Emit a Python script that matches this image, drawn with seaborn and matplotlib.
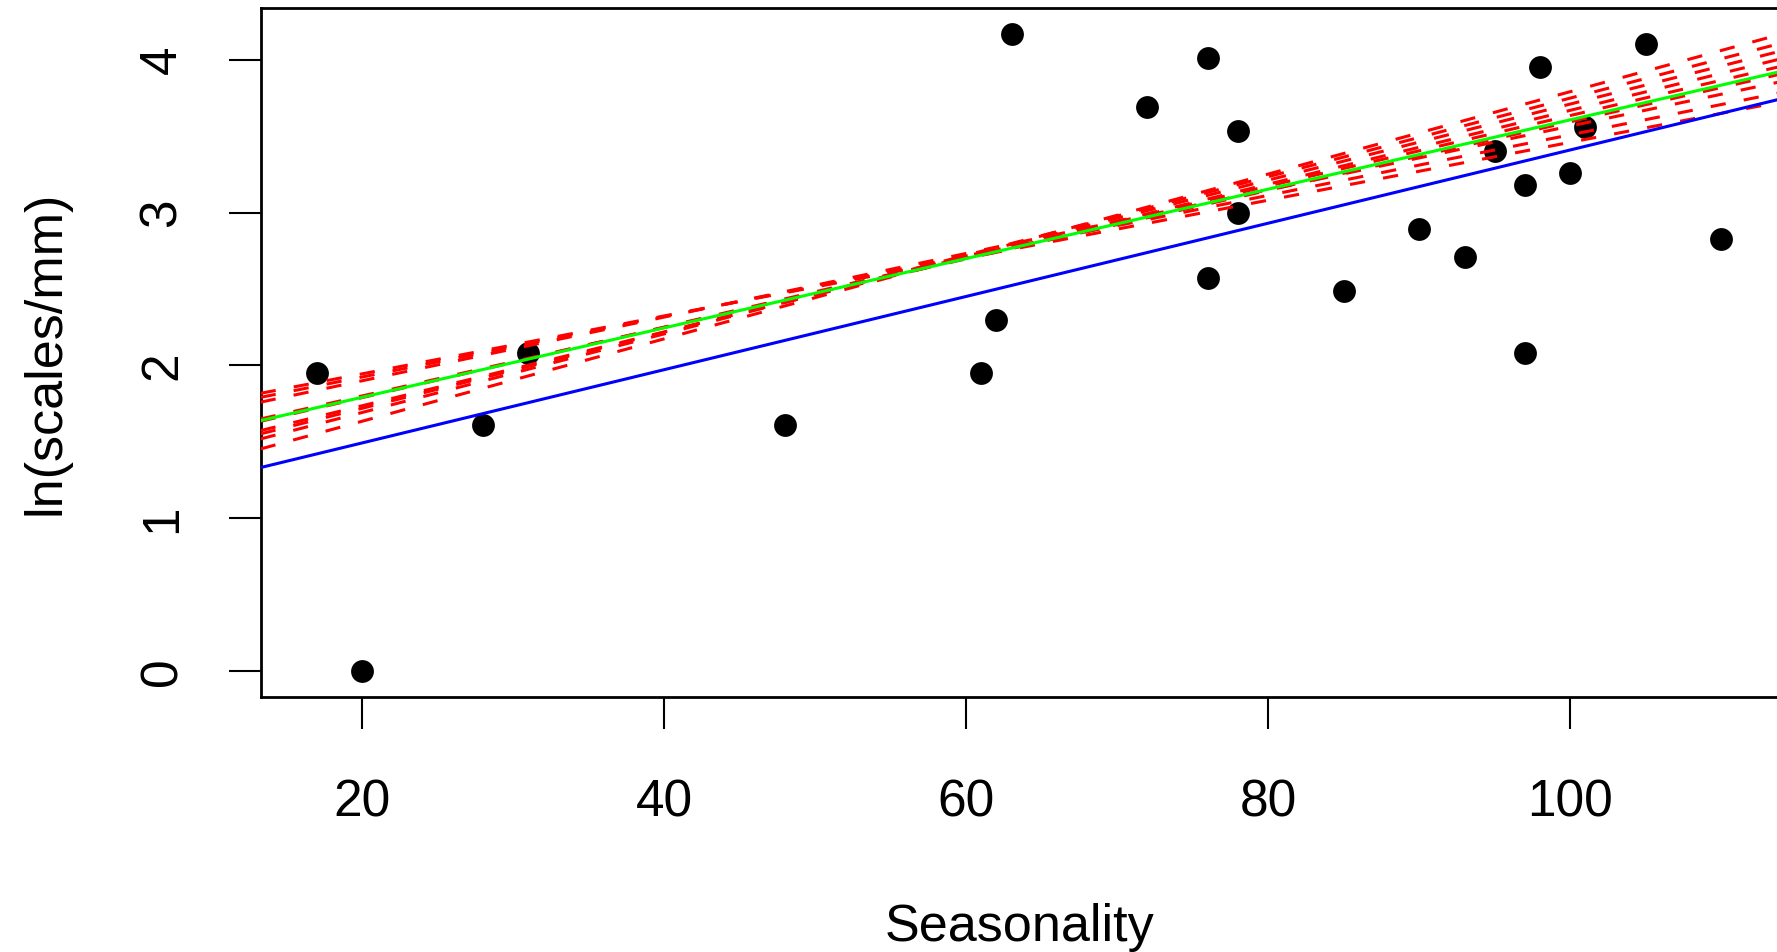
import numpy as np
import pandas as pd
import matplotlib
matplotlib.use("Agg")
import matplotlib.pyplot as plt
import seaborn as sns

# observed points
seasonality = [17, 20, 28, 31, 48, 61, 62, 63, 72, 76, 76, 78, 78, 85,
               90, 93, 95, 97, 97, 98, 100, 101, 105, 110]
ln_scales = [1.95, 0.00, 1.61, 2.08, 1.61, 1.95, 2.30, 4.17, 3.69, 4.01, 2.57, 3.53, 3.00, 2.49,
             2.89, 2.71, 3.40, 3.18, 2.08, 3.95, 3.26, 3.56, 4.10, 2.83]

# fitted lines (intercept, slope)
green_fit = (1.339, 0.02267)
blue_fit = (1.015, 0.02394)
red_intercepts = [1.567, 1.529, 1.484, 1.353, 1.329, 1.254, 1.223, 1.179, 1.097]
red_slopes = [0.01892, 0.01979, 0.02081, 0.02240, 0.02305, 0.02414, 0.02486, 0.02569, 0.02693]

x_ticks = [20, 40, 60, 80, 100]
y_ticks = [0, 1, 2, 3, 4]

sns.set_style("white")
plt.rcParams['font.family'] = ['Liberation Sans', 'DejaVu Sans']
plt.rcParams['text.color'] = 'black'
plt.rcParams['axes.labelcolor'] = 'black'

fig = plt.figure(figsize=(17.77, 9.52), dpi=100)
ax = fig.add_axes([0.1467, 0.2679, 0.8536, 0.7237])

df = pd.DataFrame({'Seasonality': seasonality, 'ln': ln_scales})
sns.scatterplot(data=df, x='Seasonality', y='ln', color='black', s=270,
                linewidth=0, ax=ax, zorder=2)

# R-style 4% padding
xr = max(seasonality) - min(seasonality)
yr = max(ln_scales) - min(ln_scales)
ax.set_xlim(min(seasonality) - 0.04 * xr, max(seasonality) + 0.04 * xr)
ax.set_ylim(min(ln_scales) - 0.04 * yr, max(ln_scales) + 0.04 * yr)

for a, b in zip(red_intercepts, red_slopes):
    ax.axline((0, a), slope=b, color='#FF0000', lw=2.2, dashes=(5, 6), zorder=3)
ax.axline((0, blue_fit[0]), slope=blue_fit[1], color='#0000FF', lw=2.2, zorder=3)
ax.axline((0, green_fit[0]), slope=green_fit[1], color='#00FF00', lw=2.2, zorder=4)

ax.set_xticks(x_ticks)
ax.set_yticks(y_ticks)
ax.set_xticklabels([str(t) for t in x_ticks])
ax.set_yticklabels([str(t) for t in y_ticks], rotation=90, va='center')
ax.tick_params(axis='both', which='major', length=23, width=1.5, labelsize=37,
               colors='black', labelcolor='black', direction='out', bottom=True, left=True)
ax.tick_params(axis='x', pad=36)
ax.tick_params(axis='y', pad=30)

for sp in ax.spines.values():
    sp.set_linewidth(2)
    sp.set_color('black')

ax.set_xlabel('Seasonality', fontsize=37.5, labelpad=54, color='black')
ax.set_ylabel('ln(scales/mm)', fontsize=37.5, labelpad=49, color='black')

fig.savefig('out.png', dpi=100)
